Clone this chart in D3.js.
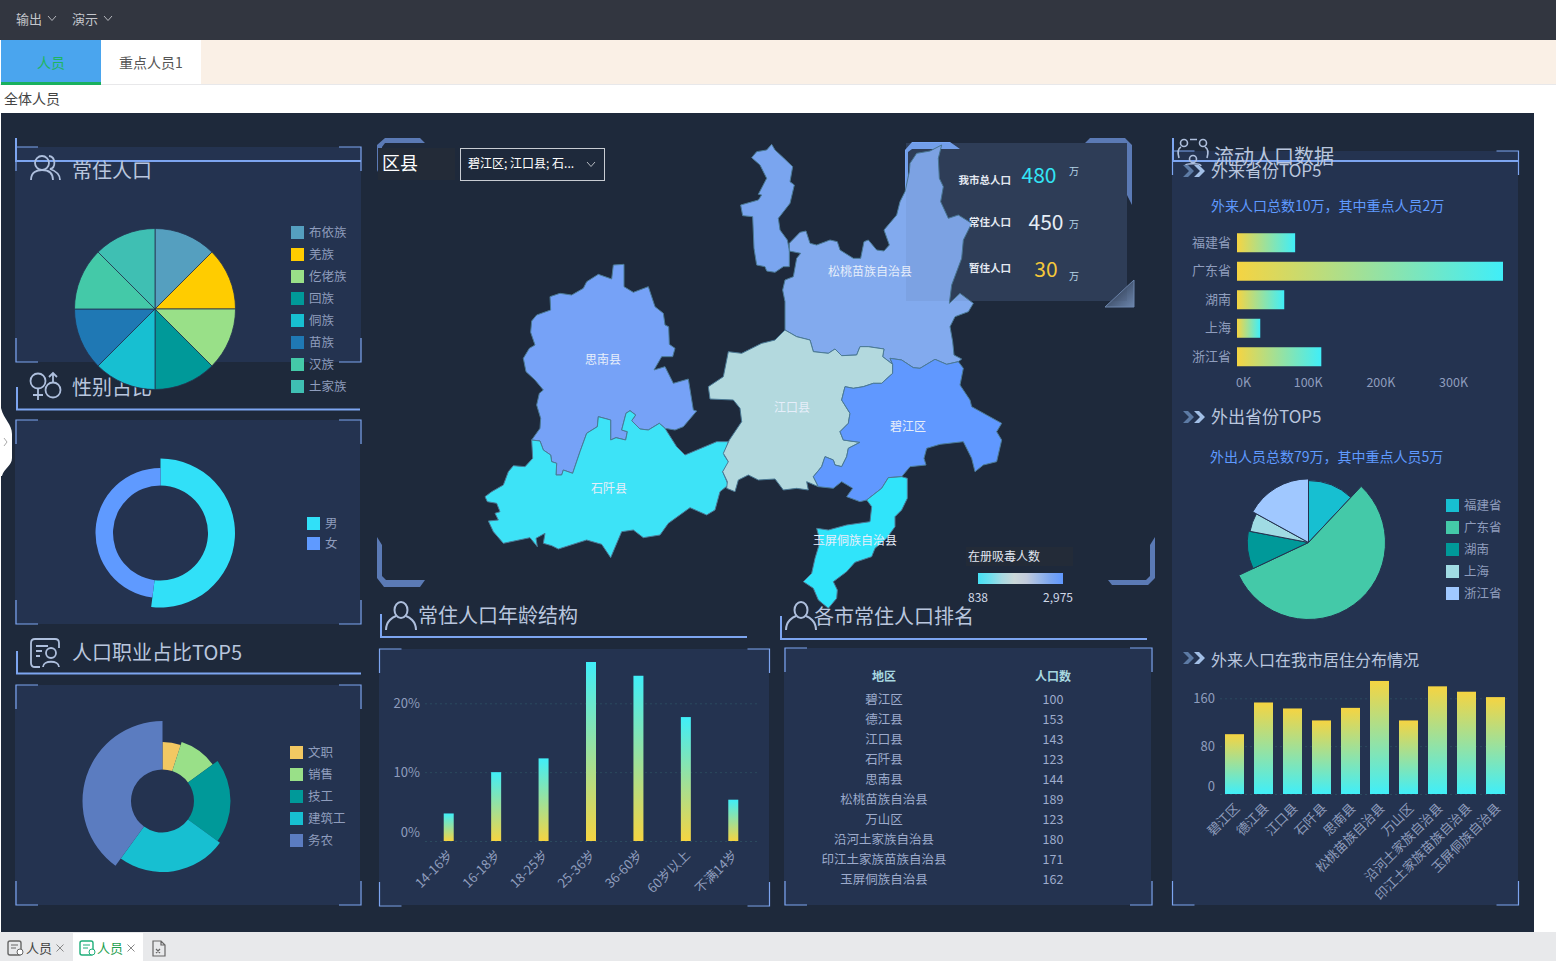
<!DOCTYPE html>
<html>
<head>
<meta charset="utf-8">
<title>人员</title>
<script src="https://cdn.jsdelivr.net/npm/d3@7"></script>
<style>
  html, body { margin: 0; padding: 0; background: #fff; overflow: hidden; }
  svg { display: block; }
  text { font-family: "Noto Sans CJK SC", "Noto Sans", sans-serif; }
</style>
</head>
<body>
<svg id="page" width="1556" height="961"></svg>
<script>
// data
const ethnicNames = ["布依族", "羌族", "仡佬族", "回族", "侗族", "苗族", "汉族", "土家族"];
const ethnicValues = [1, 1, 1, 1, 1, 1, 1, 1];
const ethnicColors = ["#559fbf", "#ffcc00", "#99e088", "#009999", "#17bfd1", "#1f78b4", "#44c9a8", "#3fbfb3"];

const genderNames = ["男", "女"];
const genderValues = [52, 48];
const genderColors = ["#31e0f8", "#5f9aff"];

const jobNames = ["文职", "销售", "技工", "建筑工", "务农"];
const jobValues = [5, 10, 20, 25, 40];
const jobColors = ["#f2c862", "#99e088", "#009999", "#17bfd1", "#5b7cc0"];

const ageGroups = ["14-16岁", "16-18岁", "18-25岁", "25-36岁", "36-60岁", "60岁以上", "不满14岁"];
const ageValues = [4, 10, 12, 26, 24, 18, 6];

const rankAreas = ["碧江区", "德江县", "江口县", "石阡县", "思南县", "松桃苗族自治县", "万山区", "沿河土家族自治县", "印江土家族苗族自治县", "玉屏侗族自治县"];
const rankValues = [100, 153, 143, 123, 144, 189, 123, 180, 171, 162];

const inProvinces = ["福建省", "广东省", "湖南", "上海", "浙江省"];
const inValues = [80000, 366000, 65000, 32000, 116000];
const outValues = [12, 56, 10, 5, 17];
const outColors = ["#17bfd1", "#44c9a8", "#009999", "#a0dbe3", "#a0c8ff"];

const visualStops = ["#45e0f4", "#6fdfee", "#a9dae2", "#cbd7d8", "#c2cbdc", "#9db9e8", "#7aa5f0", "#6098ff"];

// county outlines in map units, one list per county
const outlineSinan = [[400,390],[432,388],[432,455],[460,472],[505,455],[525,515],[550,535],[555,570],[566,575],[568,628],[585,640],[578,665],[545,665],[522,705],[555,695],[580,745],[625,732],[640,825],[650,828],[610,875],[585,885],[555,880],[538,865],[505,885],[480,882],[455,857],[467,840],[450,827],[438,835],[425,885],[442,890],[437,915],[408,908],[392,915],[392,855],[355,845],[352,875],[320,895],[300,950],[278,1015],[250,1005],[245,1020],[228,1020],[230,985],[215,980],[212,960],[190,945],[180,918],[155,915],[180,880],[182,850],[170,810],[178,775],[190,765],[165,735],[138,710],[130,670],[148,640],[165,630],[152,592],[155,558],[170,540],[212,525],[210,485],[240,475],[275,480],[310,460],[320,440],[355,418],[395,432]];
const outlineShiqian = [[155,915],[180,918],[190,945],[212,960],[215,980],[230,985],[228,1020],[245,1020],[250,1005],[278,1015],[300,950],[320,895],[352,875],[355,845],[392,855],[392,915],[408,908],[437,915],[442,890],[425,885],[438,835],[450,827],[467,840],[455,857],[480,882],[505,885],[538,865],[555,880],[590,935],[615,960],[710,920],[745,920],[732,960],[748,985],[728,1010],[745,1050],[720,1070],[705,1125],[680,1140],[630,1118],[565,1165],[540,1200],[490,1208],[460,1185],[425,1190],[392,1268],[365,1228],[320,1215],[235,1242],[215,1232],[190,1225],[195,1195],[168,1210],[172,1235],[150,1208],[70,1225],[40,1190],[25,1158],[55,1155],[45,1135],[60,1130],[50,1105],[22,1100],[15,1085],[35,1070],[70,1050],[85,1010],[100,992],[135,995],[158,970]];
const outlineSongtao = [[1385,30],[1375,70],[1378,130],[1390,155],[1382,200],[1405,250],[1435,240],[1475,265],[1450,315],[1445,370],[1415,450],[1408,505],[1440,475],[1480,505],[1465,530],[1425,545],[1410,575],[1418,620],[1422,660],[1445,672],[1435,680],[1400,688],[1365,673],[1320,700],[1300,698],[1265,675],[1230,670],[1238,688],[1208,665],[1212,642],[1165,635],[1140,635],[1130,660],[1085,662],[1065,642],[1045,655],[1000,650],[990,615],[950,605],[915,585],[915,500],[908,465],[915,435],[940,425],[950,370],[962,355],[928,348],[928,325],[960,292],[978,288],[990,325],[1010,330],[1050,315],[1072,320],[1080,345],[1120,370],[1142,370],[1152,320],[1165,315],[1190,345],[1212,348],[1228,330],[1212,285],[1250,240],[1260,200],[1275,170],[1288,110],[1290,85],[1310,55],[1350,48]];
const outlineNorth = [[875,28],[885,45],[910,68],[938,95],[930,140],[943,150],[930,205],[895,250],[900,285],[922,315],[928,345],[928,395],[910,395],[885,412],[860,408],[855,395],[830,390],[822,340],[818,245],[788,242],[782,210],[835,195],[845,180],[835,178],[860,130],[840,90],[815,68],[830,50],[860,45]];
const outlineJiangkou = [[915,585],[950,605],[990,615],[1000,650],[1045,655],[1065,642],[1085,662],[1130,660],[1140,635],[1165,635],[1212,642],[1208,665],[1238,688],[1238,715],[1205,745],[1180,745],[1150,755],[1120,760],[1095,755],[1085,795],[1110,835],[1105,865],[1080,890],[1090,915],[1140,922],[1105,940],[1100,965],[1085,995],[1065,990],[1060,975],[1035,965],[1025,995],[1000,1025],[1015,1055],[980,1040],[985,1065],[950,1060],[910,1065],[885,1032],[835,1035],[805,1020],[775,1035],[765,1070],[740,1060],[742,1040],[728,1010],[745,980],[730,955],[748,915],[785,860],[780,820],[760,795],[690,792],[685,755],[730,725],[745,650],[785,655],[845,625],[885,615]];
const outlineBijiang = [[1238,688],[1230,670],[1265,675],[1300,698],[1320,700],[1365,673],[1400,688],[1435,680],[1450,700],[1440,750],[1470,795],[1475,815],[1520,840],[1565,865],[1550,890],[1565,915],[1550,980],[1510,990],[1485,1010],[1475,970],[1450,920],[1380,928],[1340,940],[1332,970],[1338,990],[1290,995],[1265,1025],[1225,1028],[1205,1060],[1160,1095],[1140,1100],[1100,1085],[1118,1060],[1085,1040],[1060,1060],[1015,1055],[1000,1025],[1025,995],[1035,965],[1060,975],[1065,990],[1085,995],[1100,965],[1105,940],[1140,922],[1090,915],[1080,890],[1105,865],[1110,835],[1085,795],[1095,755],[1120,760],[1150,755],[1180,745],[1205,745],[1238,715]];
const outlineYuping = [[1265,1025],[1282,1030],[1282,1090],[1265,1125],[1245,1145],[1245,1175],[1220,1210],[1185,1240],[1175,1265],[1125,1282],[1100,1310],[1060,1340],[1072,1365],[1070,1390],[1045,1420],[1015,1395],[1000,1360],[970,1340],[995,1315],[1005,1270],[1020,1220],[1010,1180],[1045,1185],[1100,1170],[1170,1160],[1175,1115],[1160,1095],[1205,1060],[1225,1028]];

const mapCounties = [
  { name: "思南县", outline: outlineSinan, color: "#76a2f7", label: [369, 675] },
  { name: "石阡县", outline: outlineShiqian, color: "#3de3f7", label: [387, 1062] },
  { name: "", outline: outlineNorth, color: "#7aa5ef", label: null },
  { name: "松桃苗族自治县", outline: outlineSongtao, color: "#82aaee", label: [1170, 411] },
  { name: "江口县", outline: outlineJiangkou, color: "#b3d9de", label: [936, 819] },
  { name: "碧江区", outline: outlineBijiang, color: "#6098ff", label: [1284, 876] },
  { name: "玉屏侗族自治县", outline: outlineYuping, color: "#30e4fa", label: [1125, 1218] }
];

const svg = d3.select("#page");
const defs = svg.append("defs");

const LINE = "#7da5f0", PANEL = "#243350", LEGEND = "#8f9dbd", TITLE = "#b9c6de";

function label(parent, x, y, s, size, fill, anchor, weight) {
  return parent.append("text").attr("x", x).attr("y", y).attr("dy", "0.35em")
    .attr("font-size", size).attr("fill", fill).attr("text-anchor", anchor || "start")
    .attr("font-weight", weight || 400).text(s);
}

function rect(parent, x, y, w, h, fill) {
  return parent.append("rect").attr("x", x).attr("y", y).attr("width", w).attr("height", h).attr("fill", fill);
}

function gradient(id, x2, y2, stops) {
  const g = defs.append("linearGradient").attr("id", id).attr("x1", 0).attr("y1", 0).attr("x2", x2).attr("y2", y2);
  stops.forEach((c, i) => g.append("stop").attr("offset", i / (stops.length - 1)).attr("stop-color", c));
}
gradient("barUp", 0, 1, ["#40eef8", "#f5d442"]);
gradient("barDown", 0, 1, ["#f5d442", "#40eef8"]);
gradient("barSide", 1, 0, ["#f5d442", "#40eef8"]);
gradient("visual", 1, 0, visualStops);
gradient("frameTri", 1, 1, ["#1e293b", "#6d86ad"]);

// ---- page chrome
rect(svg, 0, 0, 1556, 40, "#323640");
label(svg, 16, 19, "输出", 13, "#c4c6cc");
label(svg, 72, 19, "演示", 13, "#c4c6cc");
[[52, 19], [108, 19]].forEach(p => svg.append("path")
  .attr("d", `M${p[0] - 4},${p[1] - 3}L${p[0]},${p[1] + 1.5}L${p[0] + 4},${p[1] - 3}`)
  .attr("fill", "none").attr("stroke", "#b5b7bd"));
rect(svg, 201, 40, 1355, 44, "#faf0e6");
rect(svg, 0, 84, 1556, 1, "#e8e8ea");
rect(svg, 1, 40, 100, 42, "#4aa5ee");
rect(svg, 1, 82, 100, 3, "#19b05e");
label(svg, 51, 63, "人员", 14, "#1fb561", "middle");
label(svg, 151, 63, "重点人员1", 14, "#555", "middle");
label(svg, 4, 99, "全体人员", 14, "#444");

rect(svg, 1, 113, 1533, 819, "#1e293b");
rect(svg, 0, 932, 1556, 29, "#e8e9eb");
rect(svg, 73, 933, 70, 28, "#fff");

// bottom sheet tabs
function sheetIcon(x, color) {
  svg.append("rect").attr("x", x).attr("y", 941).attr("width", 13).attr("height", 14).attr("rx", 2)
    .attr("fill", "none").attr("stroke", color).attr("stroke-width", 1.4);
  svg.append("path").attr("d", `M${x + 3},945H${x + 10}M${x + 3},948H${x + 8}`).attr("stroke", color);
  svg.append("circle").attr("cx", x + 12).attr("cy", 952).attr("r", 3).attr("fill", "#fff").attr("stroke", color);
}
sheetIcon(8, "#666");
sheetIcon(80, "#1fae7a");
label(svg, 26, 948, "人员", 13, "#444");
label(svg, 97, 948, "人员", 13, "#1fa050");
[[60, "#888"], [131, "#888"]].forEach(d => svg.append("path")
  .attr("d", `M${d[0] - 3.5},944.5l7,7m0,-7l-7,7`).attr("stroke", d[1]).attr("fill", "none"));
svg.append("path").attr("d", "M153,941h8l4,4v11h-12zM161,941v4h4M156,949l4,4m0,-4l-4,4")
  .attr("fill", "none").attr("stroke", "#666").attr("stroke-width", 1.2);

// side drawer handle
svg.append("path").attr("d", "M1,408C4,420 12,424 12,434V458C12,466 4,468 2,476L1,476Z").attr("fill", "#fff");
svg.append("path").attr("d", "M4,438l3,4l-3,4").attr("fill", "none").attr("stroke", "#aaa");

// ---- panels, brackets and headings
function panel(x0, y0, x1, y1) {
  rect(svg, x0, y0, x1 - x0, y1 - y0, PANEL);
}

function brackets(x0, y0, x1, y1) {
  const a = 22, b = 24;
  const d = `M${x0},${y0 + b}V${y0}H${x0 + a}M${x1 - a},${y0}H${x1}V${y0 + b}` +
    `M${x0},${y1 - b}V${y1}H${x0 + a}M${x1 - a},${y1}H${x1}V${y1 - b}`;
  svg.append("path").attr("d", d).attr("fill", "none").attr("stroke", LINE).attr("stroke-width", 1.2);
}

function heading(x, yTop, yLine, xEnd) {
  svg.append("path").attr("d", `M${x},${yTop}V${yLine}H${xEnd}`)
    .attr("fill", "none").attr("stroke", LINE).attr("stroke-width", 2);
}

function personIcon(x, y) {
  const g = svg.append("g").attr("transform", `translate(${x},${y})`).attr("fill", "none")
    .attr("stroke", "#aebfdd").attr("stroke-width", 2);
  g.append("ellipse").attr("cx", 15).attr("cy", 9).attr("rx", 6.5).attr("ry", 8);
  g.append("path").attr("d", "M0,29C0,20 7,16 10,15M30,29C30,20 23,16 20,15");
}

function peopleIcon(x, y) {
  const g = svg.append("g").attr("transform", `translate(${x},${y})`).attr("fill", "none")
    .attr("stroke", "#aebfdd").attr("stroke-width", 1.8);
  g.append("circle").attr("cx", 12).attr("cy", 8).attr("r", 7);
  g.append("path").attr("d", "M1,25C1,17 7,15 12,15C17,15 23,17 23,25M19,1C26,2 26,13 20,14C26,16 30,19 30,25");
}

function genderIcon(x, y) {
  const g = svg.append("g").attr("transform", `translate(${x},${y})`).attr("fill", "none")
    .attr("stroke", "#aebfdd").attr("stroke-width", 1.8);
  g.append("circle").attr("cx", 8).attr("cy", 9).attr("r", 7.5);
  g.append("path").attr("d", "M8,16.5V28M3,23H13");
  g.append("circle").attr("cx", 23).attr("cy", 18).attr("r", 7.5);
  g.append("path").attr("d", "M23,10V1M19,5L23,1L27,5");
}

function jobIcon(x, y) {
  const g = svg.append("g").attr("transform", `translate(${x},${y})`).attr("fill", "none")
    .attr("stroke", "#aebfdd").attr("stroke-width", 1.8);
  g.append("path").attr("d", "M10,29H5Q1,29 1,25V5Q1,1 5,1H25Q29,1 29,5V10");
  g.append("path").attr("d", "M6,8H18M6,13H12M6,18H10");
  g.append("circle").attr("cx", 21).attr("cy", 15).attr("r", 5);
  g.append("path").attr("d", "M13,29C13,22 29,22 29,29");
}

function crowdIcon(x, y) {
  const g = svg.append("g").attr("transform", `translate(${x},${y})`).attr("fill", "none")
    .attr("stroke", "#aebfdd").attr("stroke-width", 1.6);
  g.append("circle").attr("cx", 6).attr("cy", 5).attr("r", 3.5);
  g.append("circle").attr("cx", 25).attr("cy", 5).attr("r", 3.5);
  g.append("circle").attr("cx", 15).attr("cy", 21).attr("r", 3.5);
  g.append("path").attr("d", "M1,20C-1,13 1,10 3,9M29,20C31,13 29,10 27,9M12,1.5H19M7,28C7,25 23,25 23,28");
}

function chevrons(x, y) {
  ["#5d7ba5", "#a2bfe6"].forEach((c, i) => svg.append("path")
    .attr("d", `M${x + i * 11},${y - 6}h5l6,6l-6,6h-5l6,-6z`).attr("fill", c));
}

panel(15, 147, 361, 362);
panel(15, 420, 360, 624);
panel(15, 685, 360, 905);
panel(379, 649, 769, 905);
panel(784, 648, 1151, 905);
panel(1172, 151, 1518, 905);

brackets(16, 147, 361, 362);
brackets(16, 420, 361, 624);
brackets(16, 685, 361, 905);
brackets(379.5, 649, 769.5, 906);
brackets(785, 648, 1152, 905);
brackets(1172.5, 151, 1518.5, 905);

heading(16, 138, 161, 361);
peopleIcon(30, 155);
label(svg, 72, 171, "常住人口", 20, TITLE);
heading(17, 387, 409.5, 360);
genderIcon(30, 372);
label(svg, 72, 388, "性别占比", 20, TITLE);
heading(17, 651, 673.5, 361);
jobIcon(30, 638);
label(svg, 72, 653, "人口职业占比TOP5", 20, TITLE);
heading(381, 614, 637, 747);
personIcon(386, 601);
label(svg, 418, 616, "常住人口年龄结构", 20, TITLE);
heading(781, 616, 639, 1147);
personIcon(786, 601);
label(svg, 814, 617, "各市常住人口排名", 20, TITLE);
heading(1173, 138, 161, 1518);
crowdIcon(1178, 138);
label(svg, 1214, 157, "流动人口数据", 20, TITLE);

chevrons(1183, 171);
label(svg, 1211, 171, "外来省份TOP5", 17, TITLE);
chevrons(1183, 417);
label(svg, 1211, 417, "外出省份TOP5", 17, TITLE);
chevrons(1183, 658);
label(svg, 1211, 660, "外来人口在我市居住分布情况", 16, TITLE);
label(svg, 1211, 206, "外来人口总数10万，其中重点人员2万", 14, "#5f9aff");
label(svg, 1210, 457, "外出人员总数79万，其中重点人员5万", 14, "#5f9aff");

// ---- pies
function legend(x, y, step, names, colors) {
  names.forEach((n, i) => {
    rect(svg, x, y + i * step, 13, 13, colors[i]);
    label(svg, x + 18, y + i * step + 6.5, n, 12.5, LEGEND);
  });
}

function pie(cx, cy, values, colors, inner, outer, strokeW) {
  const arcs = d3.pie().sort(null)(values);
  const arc = d3.arc().innerRadius(inner).outerRadius(d => outer(d.data));
  svg.append("g").attr("transform", `translate(${cx},${cy})`)
    .selectAll("path").data(arcs).join("path")
    .attr("d", arc).attr("fill", (d, i) => colors[i])
    .attr("stroke", strokeW ? PANEL : "none").attr("stroke-width", strokeW || 0);
}

pie(155, 309, ethnicValues, ethnicColors, 0, () => 80.5, 0.8);
legend(291, 226, 22, ethnicNames, ethnicColors);

pie(160.5, 533, genderValues, genderColors, 47.5, d3.scaleLinear().domain([48, 52]).range([65, 74.5]));
legend(307, 517, 20, genderNames, genderColors);

pie(162.5, 801, jobValues, jobColors, 31.5, d3.scaleLinear().domain([5, 40]).range([59, 80]));
legend(290, 746, 22, jobNames, jobColors);

pie(1308.5, 542.5, outValues, outColors, 0, d3.scaleLinear().domain([5, 56]).range([59.5, 77]), 1);
legend(1446, 499, 22, inProvinces, outColors);

// ---- age bars
const ageX = d3.scaleBand().domain(ageGroups).range([425, 757]);
const ageY = d3.scaleLinear().domain([0, 20]).range([841, 703.3]);

function styleAxis(g) {
  g.select(".domain").remove();
  g.selectAll("line").attr("stroke", "#2b4a5e").attr("stroke-dasharray", "2,3");
  g.selectAll("text").attr("fill", LEGEND).attr("font-size", 13);
}

svg.append("g").attr("transform", "translate(425,0)")
  .call(d3.axisLeft(ageY).tickValues([0, 10, 20]).tickFormat(d => d + "%").tickSize(-332).tickPadding(5))
  .call(styleAxis)
  .call(g => g.selectAll("text").filter(d => d === 0).attr("dy", "-0.35em"));

svg.selectAll(".ageBar").data(ageValues).join("rect").attr("class", "ageBar")
  .attr("x", (d, i) => ageX(ageGroups[i]) + ageX.bandwidth() / 2 - 5)
  .attr("width", 10)
  .attr("y", d => ageY(d))
  .attr("height", d => ageY(0) - ageY(d))
  .attr("fill", "url(#barUp)");

function slantLabels(g, dx) {
  g.select(".domain").remove();
  g.selectAll("line").remove();
  g.selectAll("text").attr("fill", LEGEND).attr("font-size", 13).attr("text-anchor", "end")
    .attr("dy", 0).attr("y", 0)
    .attr("transform", `translate(${dx},15) rotate(-45)`);
}

svg.append("g").attr("transform", "translate(0,841)")
  .call(d3.axisBottom(ageX).tickSize(0))
  .call(slantLabels, 5);

// ---- ranking table
const rowY = d3.scalePoint().domain(rankAreas).range([700, 880]);
label(svg, 884, 677, "地区", 12, "#a8d8e0", "middle", 700);
label(svg, 1053, 677, "人口数", 12, "#a8d8e0", "middle", 700);
rankAreas.forEach((a, i) => {
  label(svg, 884, rowY(a), a, 12.5, "#9dabcc", "middle");
  label(svg, 1053, rowY(a), rankValues[i], 12.5, "#9dabcc", "middle");
});

// ---- inbound provinces
const inX = d3.scaleLinear().domain([0, 366000]).range([1237, 1503]);
const inY = d3.scaleBand().domain(inProvinces).range([228.5, 371]).paddingInner(1 / 3).paddingOuter(1 / 6);

svg.selectAll(".inBar").data(inValues).join("rect").attr("class", "inBar")
  .attr("x", inX(0))
  .attr("y", (d, i) => inY(inProvinces[i]))
  .attr("width", d => inX(d) - inX(0))
  .attr("height", inY.bandwidth())
  .attr("fill", "url(#barSide)");

svg.append("g").attr("transform", "translate(1237,0)")
  .call(d3.axisLeft(inY).tickSize(0).tickPadding(6))
  .call(g => {
    g.select(".domain").remove();
    g.selectAll("text").attr("fill", LEGEND).attr("font-size", 13);
  });

svg.append("g").attr("transform", "translate(0,378)")
  .call(d3.axisBottom(inX).tickValues([0, 100000, 200000, 300000]).tickFormat(d => d / 1000 + "K").tickSize(0).tickPadding(0))
  .call(g => {
    g.select(".domain").remove();
    g.selectAll("text").attr("fill", LEGEND).attr("font-size", 12.5)
      .attr("dx", d => d === 0 ? 6 : -2);
  });

// ---- residence distribution
const resX = d3.scaleBand().domain(rankAreas).range([1220, 1510]);
const resY = d3.scaleLinear().domain([0, 160]).range([794, 698.3]);

svg.append("g").attr("transform", "translate(1220,0)")
  .call(d3.axisLeft(resY).tickValues([0, 80, 160]).tickSize(-290).tickPadding(5))
  .call(styleAxis)
  .call(g => g.selectAll("text").filter(d => d === 0).attr("dy", "-0.3em"));

svg.selectAll(".resBar").data(rankValues).join("rect").attr("class", "resBar")
  .attr("x", (d, i) => resX(rankAreas[i]) + 5)
  .attr("width", 19)
  .attr("y", d => resY(d))
  .attr("height", d => resY(0) - resY(d))
  .attr("fill", "url(#barDown)");

svg.append("g").attr("transform", "translate(0,794)")
  .call(d3.axisBottom(resX).tickSize(0))
  .call(slantLabels, 6);

// ---- map
const mapX = d3.scaleLinear().domain([0, 1560]).range([480, 1000]);
const mapY = d3.scaleLinear().domain([0, 1440]).range([135, 615]);
const outlinePath = d3.line().x(d => mapX(d[0])).y(d => mapY(d[1])).curve(d3.curveLinearClosed);

function frameCorners() {
  const c = "#5b7ab5";
  const d = [
    "M377,205V145L385,138H420L425,143H385L382,147V180L377,170Z",
    "M1085,143L1090,138H1125L1132,145V205L1127,195V143Z",
    "M377,537V578L384,587H420L425,580H386L382,576V545Z",
    "M1155,537V578L1148,585H1112L1108,580H1146L1150,576V545Z"
  ];
  d.forEach(p => svg.append("path").attr("d", p).attr("fill", c));
}
frameCorners();

rect(svg, 906, 143, 221, 158, "#2f3f5a");
svg.append("path").attr("d", "M905,190V150L912,142H950L960,149H912L908,152V175L912,195Z").attr("fill", "#78a6f5");
svg.append("path").attr("d", "M1105,307L1134,280V307Z").attr("fill", "url(#frameTri)").attr("stroke", "#6d86ad");

svg.append("g").selectAll("path").data(mapCounties).join("path")
  .attr("d", d => outlinePath(d.outline))
  .attr("fill", d => d.color)
  .attr("stroke", "#4b7a96").attr("stroke-width", 1).attr("stroke-linejoin", "round");

rect(svg, 906, 143, 221, 158, "#1e293b").attr("fill-opacity", 0.06);

svg.append("g").selectAll("text").data(mapCounties.filter(d => d.label)).join("text")
  .attr("x", d => mapX(d.label[0])).attr("y", d => mapY(d.label[1])).attr("dy", "0.35em")
  .attr("text-anchor", "middle").attr("font-size", 12).attr("fill", "#e6eefa")
  .text(d => d.name);

// selector
rect(svg, 378, 148, 77, 32, "#232b38");
label(svg, 382, 164, "区县", 18, "#fff");
svg.append("rect").attr("x", 460.5).attr("y", 148.5).attr("width", 144).attr("height", 32)
  .attr("fill", "#1e293b").attr("stroke", "#c8ccd2");
label(svg, 468, 164, "碧江区; 江口县; 石...", 12, "#fff");
svg.append("path").attr("d", "M587,162l4,4.5l4,-4.5").attr("fill", "none").attr("stroke", "#b5b9c0");

// headline numbers
const headNames = ["我市总人口", "常住人口", "暂住人口"];
const headValues = [480, 450, 30];
const headColors = ["#33e5f5", "#e6edf5", "#f5c83a"];
const headLayout = [[180, 176, 171, 1039], [222, 223, 224, 1046], [268, 270, 276, 1046]];
headNames.forEach((n, i) => {
  const p = headLayout[i];
  label(svg, 1011, p[0], n, 10.5, "#e4e9f2", "end", 700);
  label(svg, p[3], p[1], headValues[i], 21, headColors[i], "middle");
  label(svg, 1074, p[2], "万", 10, "#b5d4e6", "middle");
});

// visual map
rect(svg, 966, 547, 107, 19, "#232b38");
label(svg, 968, 557, "在册吸毒人数", 12, "#e0e6f0");
rect(svg, 978, 573, 85, 11, "url(#visual)");
label(svg, 968, 598, "838", 12, "#d0d8e8");
label(svg, 1073, 598, "2,975", 12, "#d0d8e8", "end");
</script>
</body>
</html>
